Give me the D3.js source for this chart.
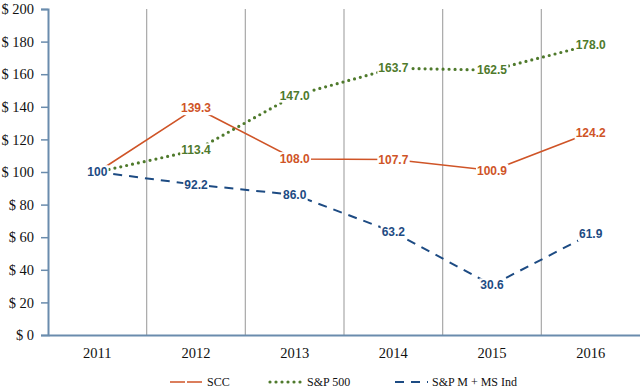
<!DOCTYPE html>
<html>
<head>
<meta charset="utf-8">
<script src="https://cdn.jsdelivr.net/npm/d3@7"></script>
<style>
  body { margin: 0; background: #fff; }
  svg { display: block; }
</style>
</head>
<body>
<div id="chart"></div>
<script>
const years = ["2011", "2012", "2013", "2014", "2015", "2016"];
const sccValues = [100, 139.3, 108.0, 107.7, 100.9, 124.2];
const sp500Values = [100, 113.4, 147.0, 163.7, 162.5, 178.0];
const spmValues = [100, 92.2, 86.0, 63.2, 30.6, 61.9];
const yTicks = [0, 20, 40, 60, 80, 100, 120, 140, 160, 180, 200];

const series = [
  { name: "SCC", values: sccValues, color: "#cf5427", dash: null, legendDash: "15 2", width: 1.6, cap: "butt" },
  { name: "S&P 500", values: sp500Values, color: "#4f7a2c", dash: "0 6", legendDash: "0 6", width: 3.2, cap: "round" },
  { name: "S&P M + MS Ind", values: spmValues, color: "#1d4b83", dash: "9 7", legendDash: "9 7", width: 2, cap: "butt" }
];

const width = 640, height = 388;
const svg = d3.select("#chart").append("svg")
  .attr("width", width)
  .attr("height", height);

const x = d3.scaleBand().domain(years).range([48, 640]);
const y = d3.scaleLinear().domain([0, 200]).range([335, 9]);

// vertical separators between years
svg.append("g")
  .selectAll("line")
  .data(years.slice(1))
  .enter().append("line")
  .attr("x1", d => x(d))
  .attr("x2", d => x(d))
  .attr("y1", y(200))
  .attr("y2", y(0))
  .attr("stroke", "#a8a8a8")
  .attr("stroke-width", 1.2);

// y axis
const yAxis = svg.append("g")
  .attr("transform", "translate(48,0)")
  .call(d3.axisLeft(y).tickValues(yTicks).tickSize(7).tickPadding(7).tickFormat(d => "$ " + d));
yAxis.select(".domain").attr("stroke", "#6a8cad").attr("stroke-width", 2);
yAxis.selectAll(".tick line").attr("stroke", "#6a8cad").attr("stroke-width", 1.5);
yAxis.selectAll(".tick text")
  .attr("font-family", "'Liberation Serif', 'Times New Roman', serif")
  .attr("font-size", "14.5px")
  .attr("fill", "#111");

// x axis
const xAxis = svg.append("g")
  .attr("transform", `translate(0,${y(0)})`)
  .call(d3.axisBottom(x).tickSize(0).tickPadding(13));
xAxis.select(".domain").attr("stroke", "#6a8cad").attr("stroke-width", 2);
xAxis.selectAll(".tick text")
  .attr("font-family", "'Liberation Serif', 'Times New Roman', serif")
  .attr("font-size", "14.5px")
  .attr("fill", "#111");

const line = d3.line()
  .x((d, i) => x(years[i]) + x.bandwidth() / 2)
  .y(d => y(d));

series.forEach(s => {
  svg.append("path")
    .datum(s.values)
    .attr("fill", "none")
    .attr("stroke", s.color)
    .attr("stroke-width", s.width)
    .attr("stroke-linecap", s.cap)
    .attr("stroke-dasharray", s.dash)
    .attr("d", line);
});

// data labels, white box behind them hides the line
series.forEach((s, si) => {
  const g = svg.append("g");
  s.values.forEach((v, i) => {
    if (i === 0 && si !== 2) return;
    const txt = i === 0 ? "100" : v.toFixed(1);
    const cx = x(years[i]) + x.bandwidth() / 2;
    const cy = y(v);
    const t = g.append("text")
      .attr("x", cx)
      .attr("y", cy)
      .attr("dy", "0.35em")
      .attr("text-anchor", "middle")
      .attr("font-family", "'Liberation Sans', Arial, sans-serif")
      .attr("font-weight", "bold")
      .attr("font-size", "12px")
      .attr("fill", s.color)
      .text(txt);
    const bb = t.node().getBBox();
    g.insert("rect", "text")
      .attr("x", bb.x - 1)
      .attr("y", bb.y)
      .attr("width", bb.width + 2)
      .attr("height", bb.height)
      .attr("fill", "#fff");
  });
});

// legend
const legendX = [170, 270, 395];
const legend = svg.append("g");
series.forEach((s, i) => {
  legend.append("line")
    .attr("x1", legendX[i])
    .attr("x2", legendX[i] + 33)
    .attr("y1", 382)
    .attr("y2", 382)
    .attr("stroke", s.color)
    .attr("stroke-width", s.width)
    .attr("stroke-linecap", s.cap)
    .attr("stroke-dasharray", s.legendDash);
  legend.append("text")
    .attr("x", legendX[i] + 37)
    .attr("y", 382)
    .attr("dy", "0.35em")
    .attr("font-family", "'Liberation Serif', 'Times New Roman', serif")
    .attr("font-size", "12px")
    .attr("fill", "#111")
    .text(s.name);
});
</script>
</body>
</html>
